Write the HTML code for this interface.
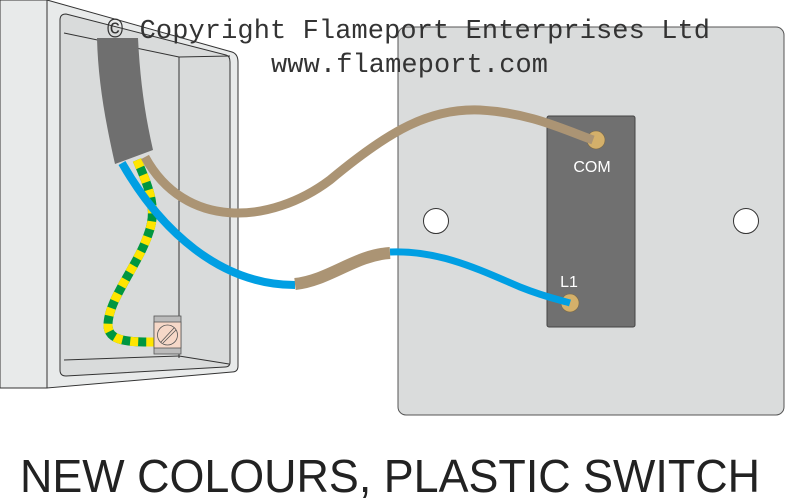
<!DOCTYPE html>
<html><head><meta charset="utf-8"><style>body{margin:0;background:#fff}svg{display:block}</style></head>
<body>
<svg width="786" height="500" viewBox="0 0 786 500" xmlns="http://www.w3.org/2000/svg">
<rect width="786" height="500" fill="#fff"/>
<rect x="0" y="0" width="47" height="388" fill="#e8eaea" stroke="#333" stroke-width="1"/>
<path d="M47,0 L232,52 Q238,54 238,62 L238,366 Q238,372 232,372 L47,388 Z" fill="#e8eaea" stroke="#333" stroke-width="1"/>
<path d="M66,14 L226,55 Q230,56 230,62 L230,362 Q230,367 225,367 L66,376 Q60,376 60,370 L60,20 Q60,14 66,14 Z" fill="#d9dbdb" stroke="#333" stroke-width="1"/>
<line x1="64" y1="33" x2="179" y2="57" stroke="#333" stroke-width="1"/>
<line x1="179" y1="57" x2="230" y2="56" stroke="#333" stroke-width="1"/>
<line x1="179" y1="57" x2="179" y2="358" stroke="#333" stroke-width="1"/>
<line x1="64" y1="360" x2="179" y2="356" stroke="#333" stroke-width="1"/>
<line x1="179" y1="356" x2="229" y2="364" stroke="#333" stroke-width="1"/>
<rect x="398" y="27" width="386" height="388" rx="8" fill="#dadcdc" stroke="#555" stroke-width="1"/>
<circle cx="436" cy="221" r="12.5" fill="#fff" stroke="#333"/>
<circle cx="746" cy="221" r="12.5" fill="#fff" stroke="#333"/>
<rect x="547" y="116" width="88" height="211" rx="2" fill="#707070" stroke="#444"/>
<text x="592" y="172" font-family="Liberation Sans, sans-serif" font-size="16" fill="#fff" text-anchor="middle">COM</text>
<text x="569" y="287" font-family="Liberation Sans, sans-serif" font-size="16" fill="#fff" text-anchor="middle">L1</text>
<path d="M137,160 C150,190 158,210 148,235 C138,265 108,300 108,325 C108,342 130,342 155,342" fill="none" stroke="#009640" stroke-width="9"/>
<path d="M137,160 C150,190 158,210 148,235 C138,265 108,300 108,325 C108,342 130,342 155,342" fill="none" stroke="#ffe500" stroke-width="9" stroke-dasharray="8 8"/>
<rect x="154" y="316" width="27" height="38" fill="#bbb" stroke="#555" stroke-width="0.8"/>
<rect x="154" y="322" width="27" height="26" fill="#f6d8c8" stroke="#555" stroke-width="0.8"/>
<circle cx="167.5" cy="335" r="10" fill="#f6d8c8" stroke="#555" stroke-width="0.8"/>
<line x1="161" y1="342" x2="174" y2="328" stroke="#555" stroke-width="0.8"/>
<line x1="163" y1="343" x2="176" y2="330" stroke="#555" stroke-width="0.8"/>
<circle cx="596" cy="140" r="9" fill="#d4b06a" stroke="#7a6a4a" stroke-width="0.6"/>
<circle cx="570" cy="303" r="9" fill="#d4b06a" stroke="#7a6a4a" stroke-width="0.6"/>
<path d="M145,157 C185,230 270,225 330,180 C390,130 430,108 480,110 C530,113 560,128 593,140" fill="none" stroke="#ab9474" stroke-width="9"/>
<path d="M122,163 C160,230 220,285 295,285" fill="none" stroke="#009fe3" stroke-width="8"/>
<path d="M295,284 C330,280 355,255 390,253" fill="none" stroke="#ab9474" stroke-width="12"/>
<path d="M390,252 C440,250 480,270 520,287 C545,297 560,300 570,303" fill="none" stroke="#009fe3" stroke-width="7"/>
<path d="M97,38 L138,38 C140,80 145,115 153,150 L115,164 C105,120 98,80 97,38 Z" fill="#6f6f6f"/>
<text x="107" y="38" font-family="Liberation Mono, monospace" font-size="27" fill="#333" textLength="603">© Copyright Flameport Enterprises Ltd</text>
<text x="271" y="72" font-family="Liberation Mono, monospace" font-size="27" fill="#333" textLength="277">www.flameport.com</text>
<text x="20" y="492" font-family="Liberation Sans, sans-serif" font-size="46" fill="#222" textLength="740" lengthAdjust="spacingAndGlyphs">NEW COLOURS, PLASTIC SWITCH</text>
</svg>
</body></html>
